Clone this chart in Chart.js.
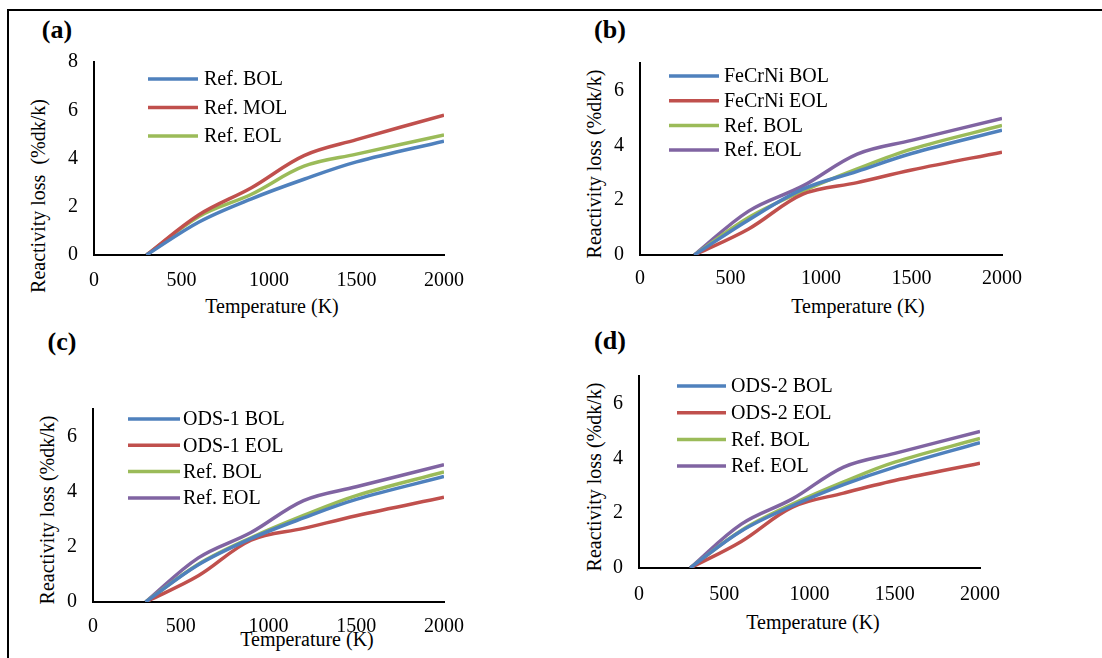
<!DOCTYPE html>
<html>
<head>
<meta charset="utf-8">
<script src="https://cdn.jsdelivr.net/npm/chart.js@4.4.1/dist/chart.umd.min.js"></script>
<style>
    body { margin: 0; width: 1102px; height: 658px; background: #fff; position: relative; overflow: hidden; font-family: 'Liberation Serif', serif; }
    .frame { position: absolute; left: 7px; top: 9px; width: 1100px; height: 660px; border-top: 2px solid #000; border-left: 2px solid #000; }
    .panel-canvas { position: absolute; }
    .lbl { position: absolute; font-weight: bold; font-size: 26px; transform: translate(-50%, -50%); white-space: pre; }
    .xt, .yt { position: absolute; font-size: 20px; white-space: pre; color: #000; }
    .xt { transform: translate(-50%, -50%); }
    .yt { transform: translate(-50%, -50%) rotate(-90deg); }
</style>
</head>
<body>
<div class="frame"></div>

<div class="lbl" style="left:57px;top:30px">(a)</div>
<div class="lbl" style="left:610px;top:30px">(b)</div>
<div class="lbl" style="left:62px;top:342px">(c)</div>
<div class="lbl" style="left:610px;top:341px">(d)</div>

<div class="xt" style="left:272px;top:306px">Temperature (K)</div>
<div class="xt" style="left:858px;top:306px">Temperature (K)</div>
<div class="xt" style="left:307px;top:639px">Temperature (K)</div>
<div class="xt" style="left:813px;top:622px">Temperature (K)</div>

<div class="yt" style="left:38px;top:196px">Reactivity loss  (%dk/k)</div>
<div class="yt" style="left:594px;top:164px">Reactivity loss (%dk/k)</div>
<div class="yt" style="left:47px;top:510px">Reactivity loss (%dk/k)</div>
<div class="yt" style="left:594px;top:477px">Reactivity loss (%dk/k)</div>

<canvas id="chartA" class="panel-canvas"></canvas>
<canvas id="chartB" class="panel-canvas"></canvas>
<canvas id="chartC" class="panel-canvas"></canvas>
<canvas id="chartD" class="panel-canvas"></canvas>

<script>
// Harorat nuqtalari (K)
const temps = [300, 600, 900, 1200, 1500, 2000];

// Reaktivlik yo'qotilishi (%dk/k)
const refBol = [0, 1.37, 2.33, 3.14, 3.86, 4.72];
const refMol = [0, 1.67, 2.79, 4.12, 4.78, 5.80];
const refEol = [0, 1.60, 2.52, 3.68, 4.18, 4.98];
const fecrniBol = [0, 1.28, 2.40, 3.05, 3.70, 4.55];
const fecrniEol = [0, 0.95, 2.22, 2.64, 3.10, 3.75];
const ods1Bol = [0, 1.35, 2.30, 3.05, 3.72, 4.55];
const ods1Eol = [0, 0.95, 2.24, 2.67, 3.13, 3.80];
const ods2Bol = [0, 1.35, 2.27, 3.04, 3.68, 4.57];
const ods2Eol = [0, 0.97, 2.22, 2.73, 3.19, 3.82];

const xTicks = [0, 500, 1000, 1500, 2000];

const COLORS = { blue: '#4F81BD', red: '#C0504D', green: '#9BBB59', purple: '#8064A2' };
const FONT = "'Liberation Serif', 'Times New Roman', serif";

const Y_W = 40, X_H = 40, PAD_T = 20, PAD_R = 30;

/** Legend grafik ichida (Excel uslubi) */
const insideLegend = {
    id: 'insideLegend',
    afterDraw(chart, args, opts) {
        const { ctx, chartArea } = chart;
        ctx.save();
        ctx.font = '20px ' + FONT;
        ctx.textBaseline = 'middle';
        ctx.textAlign = 'left';
        chart.data.datasets.forEach((ds, i) => {
            const x = chartArea.left + opts.x;
            const y = chartArea.top + opts.y + i * opts.gap;
            ctx.strokeStyle = ds.borderColor;
            ctx.lineWidth = 3.5;
            ctx.beginPath();
            ctx.moveTo(x, y);
            ctx.lineTo(x + opts.len, y);
            ctx.stroke();
            ctx.fillStyle = '#000';
            ctx.fillText(ds.label, x + opts.len + opts.pad, y + 1);
        });
        ctx.restore();
    }
};

function series(label, values, color) {
    return {
        label: label,
        data: temps.map((t, i) => ({ x: t, y: values[i] })),
        borderColor: color,
        backgroundColor: color,
        borderWidth: 3.5,
        tension: 0.35,
        pointRadius: 0,
        fill: false,
    };
}

function makePanel(id, area, yMax, xPad, legend, datasets) {
    const canvas = document.getElementById(id);
    const w = area.r - area.l + Y_W + PAD_R;
    const h = area.b - area.t + PAD_T + X_H;
    canvas.width = w;
    canvas.height = h;
    canvas.style.left = (area.l - Y_W) + 'px';
    canvas.style.top = (area.t - PAD_T) + 'px';
    canvas.style.width = w + 'px';
    canvas.style.height = h + 'px';

    return new Chart(canvas, {
        type: 'line',
        data: { datasets: datasets },
        plugins: [insideLegend],
        options: {
            responsive: false,
            animation: false,
            layout: { padding: { top: PAD_T, right: PAD_R, left: 0, bottom: 0 } },
            plugins: {
                legend: { display: false },
                tooltip: { enabled: false },
                insideLegend: legend,
            },
            scales: {
                x: {
                    type: 'linear',
                    min: xTicks[0],
                    max: xTicks[xTicks.length - 1],
                    afterBuildTicks: s => { s.ticks = xTicks.map(v => ({ value: v })); },
                    ticks: {
                        autoSkip: false,
                        maxRotation: 0,
                        padding: xPad,
                        color: '#000',
                        font: { family: FONT, size: 20 },
                        callback: v => String(v),
                    },
                    grid: { display: false, drawTicks: false },
                    border: { display: true, color: '#000', width: 2 },
                    afterFit: s => { s.height = X_H; },
                },
                y: {
                    type: 'linear',
                    min: 0,
                    max: yMax,
                    ticks: {
                        stepSize: 2,
                        padding: 16,
                        color: '#000',
                        font: { family: FONT, size: 20 },
                        callback: v => (v % 2 === 0 ? String(v) : ''),
                    },
                    grid: { display: false, drawTicks: false },
                    border: { display: true, color: '#000', width: 2 },
                    afterFit: s => { s.width = Y_W; },
                },
            },
        },
    });
}

makePanel('chartA', { l: 94, t: 54, r: 448, b: 255 }, 8, 14,
    { x: 54, y: 17, gap: 28.5, len: 50, pad: 6 },
    [
        series('Ref. BOL', refBol, COLORS.blue),
        series('Ref. MOL', refMol, COLORS.red),
        series('Ref. EOL', refEol, COLORS.green),
    ]);

makePanel('chartB', { l: 640, t: 55, r: 1004, b: 255 }, 7, 12,
    { x: 29, y: 13, gap: 24.7, len: 50, pad: 5 },
    [
        series('FeCrNi BOL', fecrniBol, COLORS.blue),
        series('FeCrNi EOL', fecrniEol, COLORS.red),
        series('Ref. BOL', refBol, COLORS.green),
        series('Ref. EOL', refEol, COLORS.purple),
    ]);

makePanel('chartC', { l: 93, t: 401, r: 447, b: 602 }, 7, 13,
    { x: 35, y: 10, gap: 26.3, len: 52, pad: 3 },
    [
        series('ODS-1 BOL', ods1Bol, COLORS.blue),
        series('ODS-1 EOL', ods1Eol, COLORS.red),
        series('Ref. BOL', refBol, COLORS.green),
        series('Ref. EOL', refEol, COLORS.purple),
    ]);

makePanel('chartD', { l: 639, t: 368, r: 985, b: 568 }, 7, 15,
    { x: 38, y: 10, gap: 26.7, len: 49, pad: 5 },
    [
        series('ODS-2 BOL', ods2Bol, COLORS.blue),
        series('ODS-2 EOL', ods2Eol, COLORS.red),
        series('Ref. BOL', refBol, COLORS.green),
        series('Ref. EOL', refEol, COLORS.purple),
    ]);
</script>
</body>
</html>
